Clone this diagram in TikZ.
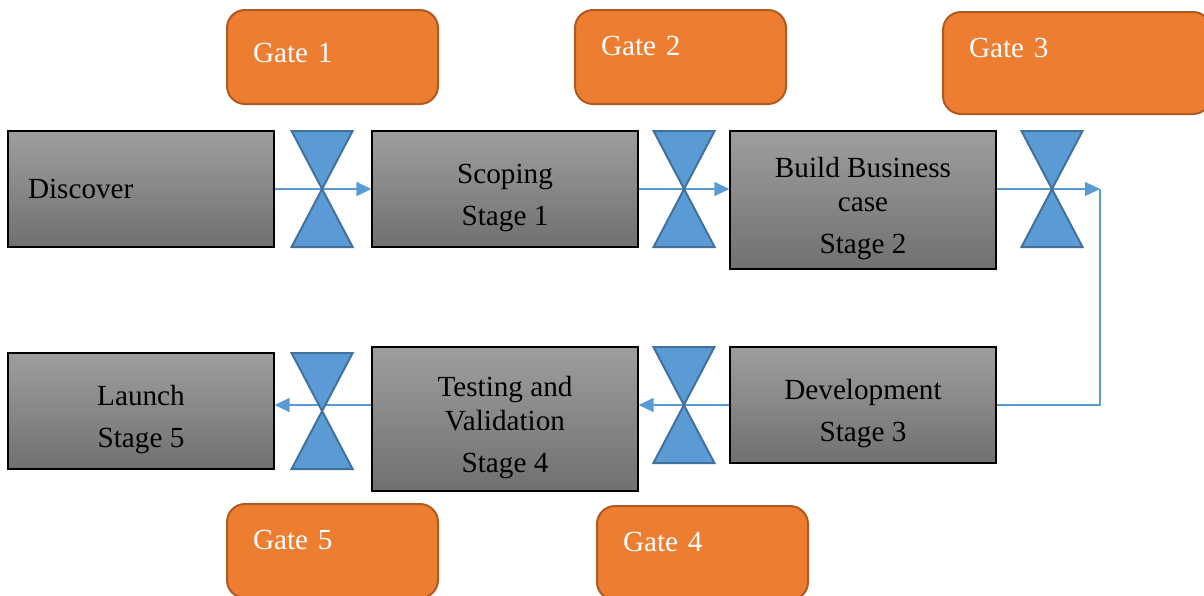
\documentclass[tikz,border=0pt]{standalone}
\usepackage{fontspec}
\setmainfont{Liberation Serif}
\usetikzlibrary{arrows.meta}
\usetikzlibrary{positioning}

\definecolor{gateorange}{HTML}{ED7D31}
\definecolor{gateedge}{HTML}{AE5A21}
\definecolor{valveblue}{HTML}{5B9BD5}
\definecolor{valveedge}{HTML}{41719C}

% tall strut on the first line pushes the stage text down a little
\newcommand{\stagelift}{\rule{0pt}{19pt}}

\tikzset{
  stagebox/.style={draw=black, line width=0.6pt, top color=black!38, bottom color=black!56,
    minimum width=133pt, minimum height=58pt, align=center, inner sep=2pt,
    font=\fontsize{14.6}{17}\selectfont},
  gate/.style={draw=gateedge, line width=1pt, fill=gateorange, rounded corners=9pt,
    text=white, align=left, text width=79.5pt, inner xsep=13pt, minimum height=47pt,
    text depth=11pt, anchor=north west, font=\fontsize{14.6}{17}\selectfont},
  valve/.style={minimum width=30.5pt, minimum height=58pt, inner sep=0pt, outer sep=0pt},
  valveshape/.style={draw=valveedge, line width=1pt, fill=valveblue, line join=miter},
  flow/.style={draw=valveblue, line width=0.65pt, -{Triangle[length=7.5pt,width=7pt]}},
  link/.style={draw=valveblue, line width=0.65pt}
}

\begin{document}
\begin{tikzpicture}[x=0.5pt, y=-0.5pt]
  \useasboundingbox (0,0) rectangle (1204,595);

  % gates
  \node[gate, text depth=4pt] (gate1) at (226,9) {Gate 1};
  \node[gate] (gate2) at (574,9) {Gate 2};
  \node[gate, text width=108pt, minimum height=51pt, text depth=15pt] (gate3) at (942,11) {Gate 3};
  \node[gate] (gate5) at (226,503) {Gate 5};
  \node[gate] (gate4) at (596,505) {Gate 4};

  % stages, top row
  \node[stagebox, align=left, text width=113pt, inner xsep=10pt] (disc) at (141,189) {Discover};
  \node[stagebox] (scope) at (505,189) {\stagelift Scoping\\[4pt]Stage 1};
  \node[stagebox, minimum height=69pt] (build) at (863,200) {\stagelift Build Business\\case\\[4pt]Stage 2};

  % stages, bottom row
  \node[stagebox] (dev) at (863,405) {\stagelift Development\\[4pt]Stage 3};
  \node[stagebox, minimum height=72pt] (test) at (505,419) {\stagelift Testing and\\Validation\\[4pt]Stage 4};
  \node[stagebox] (launch) at (141,411) {\stagelift Launch\\[4pt]Stage 5};

  % valves between the stages
  \node[valve, right=8.5pt of disc] (hg1) {};
  \node[valve, right=7.5pt of scope] (hg2) {};
  \node[valve] (hg3) at (1052,189) {};
  \node[valve, left=7.5pt of dev] (hg4) {};
  \node[valve, right=8.5pt of launch] (hg5) {};

  \coordinate (turn) at (1100,189);

  \draw[flow] (disc.east) -- (scope.west);
  \draw[flow] (scope.east) -- (scope.east -| build.west);
  \draw[flow] (hg3 -| build.east) -- (turn);
  \draw[link] (turn) |- (dev.east);
  \draw[flow] (dev.west) -- (dev.west -| test.east);
  \draw[flow] (dev.west -| test.west) -- (dev.west -| launch.east);

  \foreach \v in {hg1,hg2,hg3,hg4,hg5}
    \draw[valveshape] (\v.north west) -- (\v.north east) -- (\v.south west) -- (\v.south east) -- cycle;
\end{tikzpicture}
\end{document}
